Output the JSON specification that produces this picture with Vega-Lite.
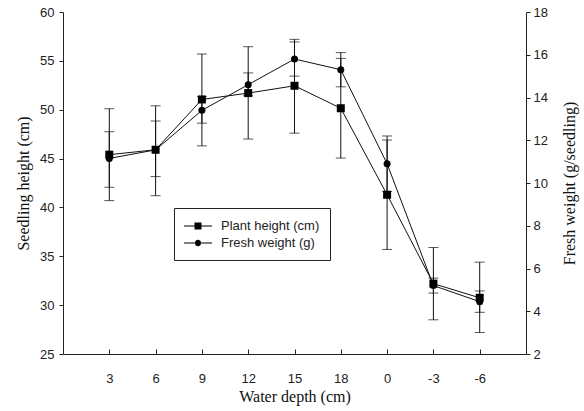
{
  "$schema": "https://vega.github.io/schema/vega-lite/v6.json",
  "width": 463,
  "height": 342,
  "autosize": "none",
  "padding": {"left": 63, "top": 12, "right": 58, "bottom": 57},
  "background": "white",
  "config": {
    "view": {"stroke": null},
    "axis": {
      "grid": false,
      "labelFont": "Liberation Sans",
      "labelFontSize": 13,
      "labelColor": "#222",
      "titleFont": "Liberation Serif",
      "titleFontSize": 16,
      "titleFontWeight": "normal",
      "titleColor": "#111",
      "domainColor": "#222",
      "tickColor": "#222"
    },
    "legend": {
      "orient": "none",
      "legendX": 111,
      "legendY": 196,
      "strokeColor": "#222",
      "fillColor": "white",
      "padding": 10,
      "labelFont": "Liberation Sans",
      "labelFontSize": 13,
      "labelColor": "#222",
      "symbolSize": 196,
      "symbolOffset": 6,
      "labelOffset": 15,
      "rowPadding": 2
    }
  },
  "data": {
    "values": [
      {"depth": "3", "ph": 45.4, "ph_lo": 40.7, "ph_hi": 50.1, "fw": 11.15, "fw_lo": 9.8, "fw_hi": 12.4},
      {"depth": "6", "ph": 45.9, "ph_lo": 41.2, "ph_hi": 50.4, "fw": 11.55, "fw_lo": 10.3, "fw_hi": 12.9},
      {"depth": "9", "ph": 51.05, "ph_lo": 46.3, "ph_hi": 55.7, "fw": 13.4, "fw_lo": 12.8, "fw_hi": 14.05},
      {"depth": "12", "ph": 51.7, "ph_lo": 47.0, "ph_hi": 56.45, "fw": 14.6, "fw_lo": 14.08, "fw_hi": 15.15},
      {"depth": "15", "ph": 52.45, "ph_lo": 47.6, "ph_hi": 57.2, "fw": 15.8, "fw_lo": 15.0, "fw_hi": 16.6},
      {"depth": "18", "ph": 50.15, "ph_lo": 45.05, "ph_hi": 55.25, "fw": 15.3, "fw_lo": 14.5, "fw_hi": 16.1},
      {"depth": "0", "ph": 41.3, "ph_lo": 35.7, "ph_hi": 46.9, "fw": 10.9, "fw_lo": 9.6, "fw_hi": 12.2},
      {"depth": "-3", "ph": 32.2, "ph_lo": 28.5, "ph_hi": 35.9, "fw": 5.2, "fw_lo": 4.85, "fw_hi": 5.55},
      {"depth": "-6", "ph": 30.75, "ph_lo": 27.2, "ph_hi": 34.4, "fw": 4.45, "fw_lo": 3.95, "fw_hi": 4.95}
    ]
  },
  "encoding": {
    "x": {
      "field": "depth",
      "type": "ordinal",
      "sort": null,
      "scale": {"type": "point", "padding": 1},
      "axis": {
        "title": "Water depth (cm)",
        "labelAngle": 0,
        "tickSize": -5,
        "labelPadding": 23,
        "titlePadding": 3
      }
    }
  },
  "layer": [
    {
      "mark": {"type": "line", "color": "#111", "strokeWidth": 1},
      "encoding": {
        "y": {
          "field": "ph",
          "type": "quantitative",
          "scale": {"domain": [25, 60], "nice": false, "zero": false},
          "axis": {
            "orient": "left",
            "title": "Seedling height (cm)",
            "values": [25, 30, 35, 40, 45, 50, 55, 60],
            "tickSize": 4,
            "labelPadding": 5,
            "titlePadding": 8
          }
        }
      }
    },
    {
      "mark": {"type": "line", "color": "#111", "strokeWidth": 1},
      "encoding": {
        "y": {
          "field": "fw",
          "type": "quantitative",
          "scale": {"domain": [2, 18], "nice": false, "zero": false},
          "axis": {
            "orient": "right",
            "title": "Fresh weight (g/seedling)",
            "values": [2, 4, 6, 8, 10, 12, 14, 16, 18],
            "tickSize": 4,
            "labelPadding": 3,
            "titleAngle": 270,
            "titleBaseline": "top",
            "titlePadding": 14
          }
        }
      }
    },
    {
      "mark": {"type": "rule", "color": "#111", "strokeWidth": 1},
      "encoding": {
        "y": {"field": "ph_lo", "type": "quantitative", "scale": {"domain": [25, 60], "nice": false, "zero": false}, "axis": null},
        "y2": {"field": "ph_hi"}
      }
    },
    {
      "mark": {"type": "tick", "color": "#111", "thickness": 1, "size": 10},
      "encoding": {
        "y": {"field": "ph_lo", "type": "quantitative", "scale": {"domain": [25, 60], "nice": false, "zero": false}, "axis": null}
      }
    },
    {
      "mark": {"type": "tick", "color": "#111", "thickness": 1, "size": 10},
      "encoding": {
        "y": {"field": "ph_hi", "type": "quantitative", "scale": {"domain": [25, 60], "nice": false, "zero": false}, "axis": null}
      }
    },
    {
      "mark": {"type": "rule", "color": "#111", "strokeWidth": 1},
      "encoding": {
        "y": {"field": "fw_lo", "type": "quantitative", "scale": {"domain": [2, 18], "nice": false, "zero": false}, "axis": null},
        "y2": {"field": "fw_hi"}
      }
    },
    {
      "mark": {"type": "tick", "color": "#111", "thickness": 1, "size": 10},
      "encoding": {
        "y": {"field": "fw_lo", "type": "quantitative", "scale": {"domain": [2, 18], "nice": false, "zero": false}, "axis": null}
      }
    },
    {
      "mark": {"type": "tick", "color": "#111", "thickness": 1, "size": 10},
      "encoding": {
        "y": {"field": "fw_hi", "type": "quantitative", "scale": {"domain": [2, 18], "nice": false, "zero": false}, "axis": null}
      }
    },
    {
      "mark": {"type": "point", "shape": "square", "filled": true, "color": "black", "size": 64, "opacity": 1},
      "encoding": {
        "y": {"field": "ph", "type": "quantitative", "scale": {"domain": [25, 60], "nice": false, "zero": false}, "axis": null}
      }
    },
    {
      "mark": {"type": "point", "shape": "circle", "filled": true, "color": "black", "size": 49, "opacity": 1},
      "encoding": {
        "y": {"field": "fw", "type": "quantitative", "scale": {"domain": [2, 18], "nice": false, "zero": false}, "axis": null}
      }
    },
    {
      "mark": {"type": "point", "filled": true, "color": "black", "opacity": 0},
      "encoding": {
        "y": {"field": "ph", "type": "quantitative", "scale": {"domain": [25, 60], "nice": false, "zero": false}, "axis": null},
        "shape": {
          "datum": "Plant height (cm)",
          "scale": {
            "domain": ["Plant height (cm)", "Fresh weight (g)"],
            "range": [
              "M-2,-0.07H-0.5V0.07H-2Z M0.5,-0.07H2V0.07H0.5Z M-0.5,-0.5H0.5V0.5H-0.5Z",
              "M-2,-0.07H-0.4V0.07H-2Z M0.4,-0.07H2V0.07H0.4Z M-0.45,0A0.45,0.45 0 1,0 0.45,0A0.45,0.45 0 1,0 -0.45,0Z"
            ]
          },
          "legend": {
            "title": null,
            "symbolOpacity": 1,
            "symbolFillColor": "black",
            "symbolStrokeColor": "transparent",
            "encode": {"symbols": {"update": {"opacity": {"value": 1}, "fill": {"value": "black"}}}}
          }
        }
      }
    },
    {
      "mark": {"type": "point", "filled": true, "color": "black", "opacity": 0},
      "encoding": {
        "y": {"field": "fw", "type": "quantitative", "scale": {"domain": [2, 18], "nice": false, "zero": false}, "axis": null},
        "shape": {"datum": "Fresh weight (g)"}
      }
    }
  ],
  "resolve": {"scale": {"y": "independent"}}
}
